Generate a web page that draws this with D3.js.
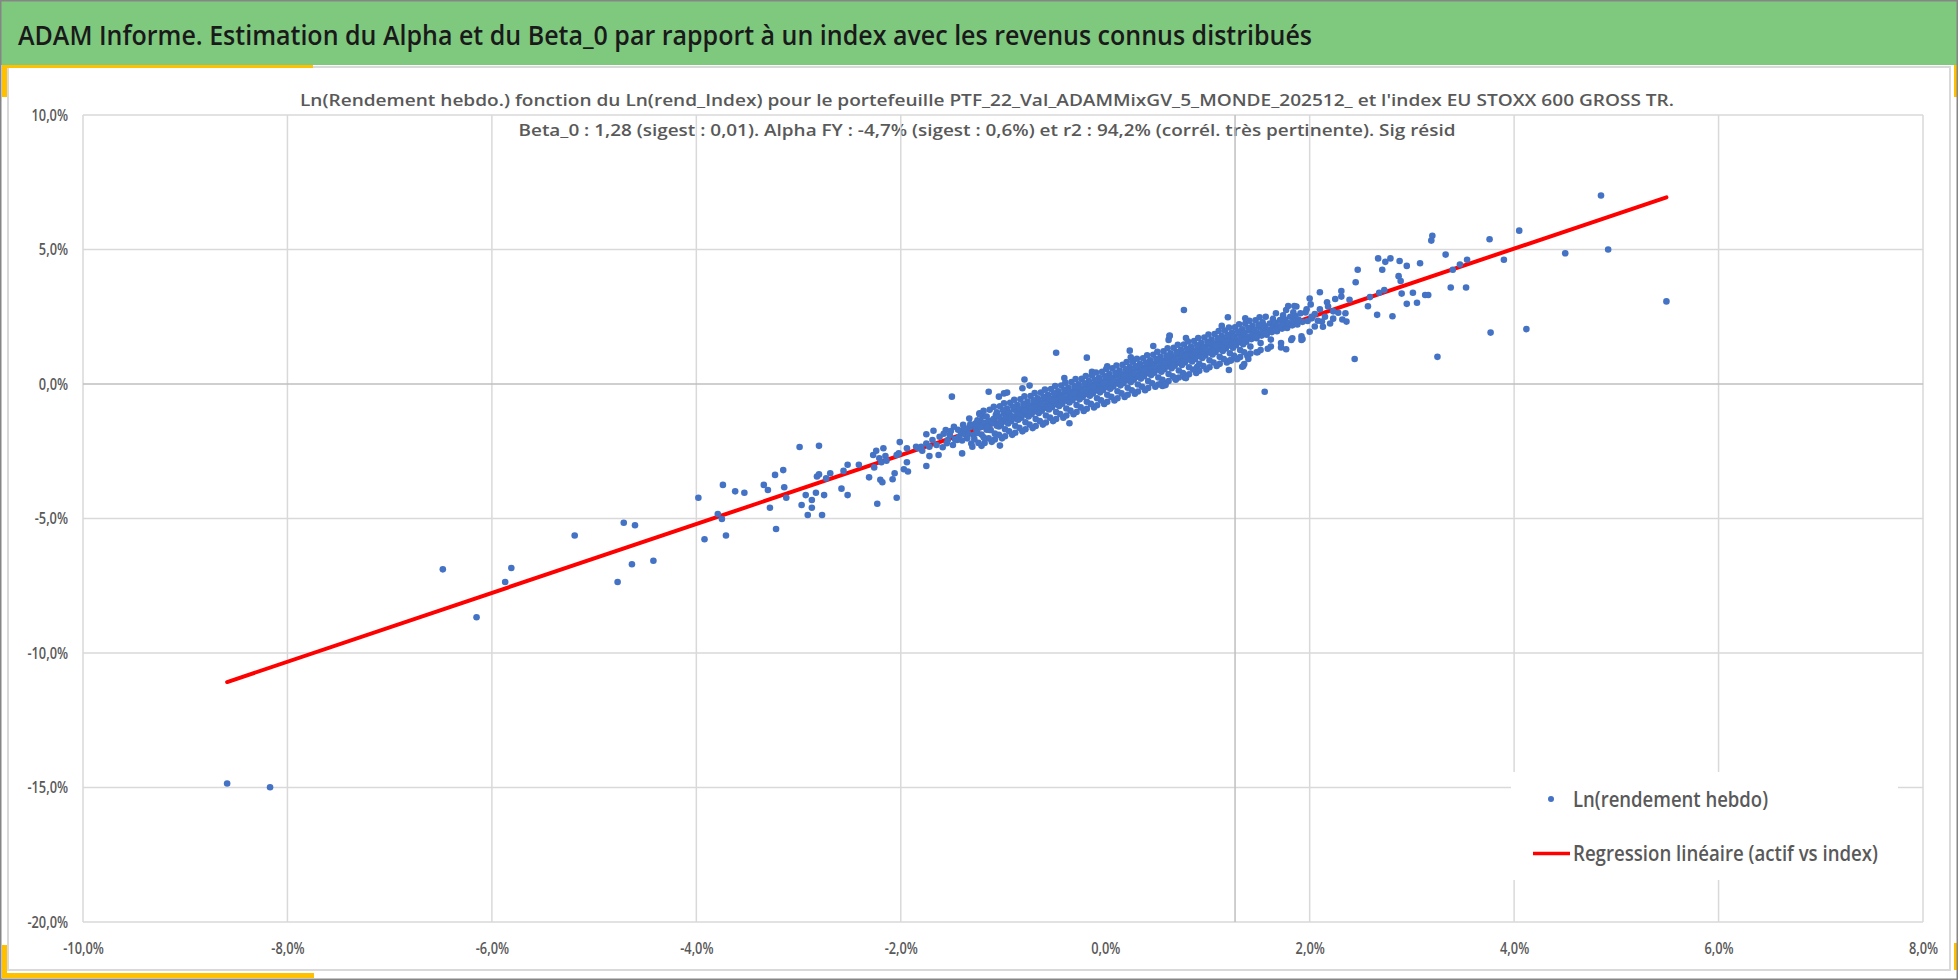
<!DOCTYPE html>
<html>
<head>
<meta charset="utf-8">
<script src="https://cdn.jsdelivr.net/npm/d3@7"></script>
<style>
html, body { margin: 0; padding: 0; background: #fff; }
svg { display: block; }
text { font-family: "Open Sans", sans-serif; }
</style>
</head>
<body>
<svg id="chart"></svg>
<script>
var viewWidth = 1958;
var viewHeight = 980;

var mainTitle = "ADAM Informe. Estimation du Alpha et du Beta_0 par rapport à un index avec les revenus connus distribués";
var subTitle1 = "Ln(Rendement hebdo.) fonction du Ln(rend_Index) pour le portefeuille PTF_22_Val_ADAMMixGV_5_MONDE_202512_ et l'index EU STOXX 600 GROSS TR.";
var subTitle2 = "Beta_0 : 1,28 (sigest : 0,01). Alpha FY : -4,7% (sigest : 0,6%) et r2 : 94,2% (corrél. très pertinente). Sig résid";
var legendNames = ["Ln(rendement hebdo)", "Regression linéaire (actif vs index)"];

// axes (values in %)
var xTicks = [-10, -8, -6, -4, -2, 0, 2, 4, 6, 8];
var yTicks = [10, 5, 0, -5, -10, -15, -20];
var xGridSkip = [0];          // no vertical gridline at 0 on the picture
var vAxisCross = 1.27;        // darker vertical axis line

// regression line ends (x index, y portfolio)
var regLine = [[-8.59, -11.08], [5.49, 6.94]];

// weekly points [ln index, ln portfolio] in %
var farLeft = [
  [-8.59,-14.85],[-8.17,-14.99],[-6.48,-6.89],[-6.15,-8.67],[-5.87,-7.36],[-5.81,-6.84],[-5.19,-5.63],
  [-4.71,-5.16],[-4.60,-5.25],[-4.77,-7.36],[-4.63,-6.70],[-4.42,-6.57],[-3.98,-4.23],[-3.74,-3.75],
  [-3.62,-3.99],[-3.53,-4.04],[-3.79,-4.83],[-3.75,-5.02],[-3.92,-5.77],[-3.71,-5.63]
];

var leftTail = [
  [-3.34,-3.75],[-3.30,-3.94],[-3.28,-4.60],[-3.23,-3.38],[-3.22,-5.39],[-3.15,-3.20],[-3.14,-3.84],[-3.12,-4.23],
  [-2.99,-2.34],[-2.97,-4.50],[-2.93,-4.13],[-2.91,-4.87],[-2.87,-4.31],[-2.87,-4.60],[-2.83,-4.04],[-2.80,-2.30],
  [-2.82,-3.44],[-2.80,-3.36],[-2.77,-4.87],[-2.75,-4.13],[-2.73,-3.51],[-2.69,-3.32],[-2.58,-3.89],[-2.56,-3.23],
  [-2.52,-3.00],[-2.52,-4.13],[-2.41,-3.00],[-2.31,-3.47],[-2.27,-2.64],[-2.24,-2.48],[-2.26,-3.10],[-2.23,-4.45],
  [-2.21,-2.76],[-2.20,-3.56],[-2.18,-3.65],[-2.19,-2.91],[-2.17,-2.39],[-2.15,-2.68],[-2.14,-2.85],[-2.08,-3.54],
  [-2.06,-3.32],[-2.04,-4.23],[-2.04,-2.64],[-2.02,-2.58],[-2.01,-2.16],[-1.97,-3.17],[-1.93,-3.25],[-1.94,-2.91],
  [-1.94,-2.39],[-1.85,-2.33],[-1.80,-2.33],[-1.79,-2.48],[-1.75,-1.87],[-1.75,-3.05],[-1.72,-2.68],[-1.68,-1.74],
  [-1.63,-2.64],[-1.50,-0.47],[-1.40,-2.58],[-1.03,-2.29],[-1.14,-0.29],[-0.79,0.17],[-0.48,1.16],[-0.18,0.98],
  [-0.35,-1.46],[0.02,0.66],
  [-1.83,-2.39],[-1.75,-2.21],[-1.72,-2.33],[-1.69,-2.08],[-1.65,-2.27],[-1.62,-1.96],[-1.59,-2.35],[-1.56,-1.71],
  [-1.54,-2.08],[-1.52,-1.90],[-1.49,-2.27],[-1.48,-1.59],[-1.45,-2.08],[-1.43,-1.96],[-1.39,-1.52],[-1.36,-1.71],
  [-1.35,-2.02],[-1.33,-1.28],[-1.31,-2.21],[-1.30,-2.33],[-1.28,-1.59],[-1.26,-1.71],[-1.23,-1.09],[-1.22,-1.40],
  [-1.20,-1.21],[-1.17,-1.59],[-1.13,-1.71],[-1.10,-1.34],[-1.07,-1.15],[-1.41,-1.80],[-1.37,-1.88],[-1.33,-1.62],
  [-1.29,-1.90],[-1.27,-1.47],[-1.25,-1.82],[-1.04,-1.58],[-1.08,-1.44],
  [-1.58,-1.85],[-1.55,-2.20],[-1.51,-1.75],[-1.47,-2.05],[-1.44,-1.70],[-1.40,-2.10],[-1.38,-1.65],[-1.34,-1.85],
  [-1.32,-1.50],[-1.28,-2.05],[-1.26,-1.55]
];

var bandLoose = [
  [-0.40,0.22],[-0.81,-0.16],[-0.74,-0.06],[-1.04,-0.47],[-0.99,-0.35],[-0.96,-0.32],[1.34,0.64],[1.36,0.74],
  [1.83,1.70],[1.92,1.64],[0.24,1.24],[0.25,0.99],[0.27,0.89],[0.62,1.64],[0.63,1.78],[0.79,1.71],[-0.13,0.45],
  [0.55,0.03],[0.56,-0.07],[0.78,0.23],[0.90,0.64],[0.85,0.87]
];

var rightTail = [
  [0.77,2.75],[1.20,2.48],[1.56,-0.29],[2.44,0.93],[3.25,1.01],[3.77,1.91],[4.12,2.04],[4.85,7.01],[4.05,5.70],
  [3.76,5.38],[4.50,4.86],[4.92,5.00],[3.90,4.62],[3.19,5.33],[3.20,5.51],[3.33,4.81],[3.54,4.62],[3.47,4.44],
  [3.40,4.25],[3.38,3.59],[3.53,3.59],[2.67,4.67],[2.74,4.54],[2.79,4.67],[2.88,4.57],[2.95,4.39],[3.08,4.49],
  [2.47,4.25],[2.71,4.25],[2.45,3.78],[2.87,4.01],[2.89,3.83],[2.68,3.39],[2.73,3.49],[2.90,3.36],[3.01,3.39],
  [3.13,3.31],[3.16,3.31],[2.57,2.89],[2.59,3.23],[2.95,2.98],[3.05,3.02],[2.66,2.57],[2.81,2.52],[2.10,3.41],
  [2.31,3.46],[2.31,3.25],[2.39,3.13],[2.25,3.16],[2.17,3.04],[2.23,2.70],[2.23,2.43],[2.32,2.40],[2.36,2.32],
  [2.35,2.63],[2.28,2.65],[2.12,2.32],[2.13,2.13],[2.05,2.14],[2.00,1.94],[1.93,1.67],[1.72,1.36],[1.77,1.29],
  [1.79,2.90],[1.85,2.90],[2.00,3.18],[2.01,2.96],[1.48,1.18],[1.40,0.93],[1.35,0.67],[1.21,0.52],[1.23,0.87],
  [0.79,0.22],[0.68,0.22],[0.59,-0.04],[0.63,1.80],[0.47,1.41],[1.37,2.44],[1.14,2.16],[5.49,3.07],
  [2.05,2.60],[2.10,2.78],[2.15,2.50],[2.08,2.35],[1.97,2.78],[2.18,2.88],[2.20,2.25],[2.02,2.44]
];

// the dense core of the cloud
var bandCore = [
  [-1.24,-1.52],[-1.21,-1.88],[-1.18,-1.44],[-1.16,-1.70],[-1.22,-1.61],[-1.19,-1.98],[-1.25,-1.35],
  [-1.14,-1.38],[-1.12,-1.71],[-1.09,-1.29],[-1.06,-1.55],[-1.11,-1.47],[-1.08,-1.84],[-1.15,-1.60],[-1.05,-1.22],
  [-1.04,-1.20],[-1.02,-1.52],[-0.99,-1.11],[-0.97,-1.40],[-1.01,-1.33],[-0.98,-1.68],[-1.03,-1.45],[-0.96,-1.26],[-1.00,-0.98],
  [-0.94,-1.05],[-0.92,-1.38],[-0.89,-0.96],[-0.87,-1.29],[-0.91,-1.20],[-0.88,-1.55],[-0.93,-1.31],[-0.86,-1.12],[-0.90,-0.85],[-0.95,-1.47],
  [-0.84,-0.92],[-0.82,-1.25],[-0.79,-0.83],[-0.77,-1.14],[-0.81,-1.06],[-0.78,-1.42],[-0.83,-1.18],[-0.76,-0.99],[-0.80,-0.74],[-0.85,-1.33],[-0.79,-1.01],
  [-0.74,-0.80],[-0.72,-1.12],[-0.69,-0.70],[-0.67,-1.02],[-0.71,-0.93],[-0.68,-1.30],[-0.73,-1.06],[-0.66,-0.86],[-0.70,-0.61],[-0.75,-1.21],[-0.69,-0.97],[-0.72,-0.88],
  [-0.64,-0.67],[-0.62,-0.99],[-0.59,-0.57],[-0.57,-0.89],[-0.61,-0.80],[-0.58,-1.17],[-0.63,-0.93],[-0.56,-0.73],[-0.60,-0.48],[-0.65,-1.08],[-0.59,-0.84],[-0.62,-0.75],
  [-0.54,-0.54],[-0.52,-0.86],[-0.49,-0.44],[-0.47,-0.76],[-0.51,-0.67],[-0.48,-1.04],[-0.53,-0.80],[-0.46,-0.60],[-0.50,-0.35],[-0.55,-0.95],[-0.49,-0.71],[-0.52,-0.62],
  [-0.44,-0.41],[-0.42,-0.73],[-0.39,-0.31],[-0.37,-0.63],[-0.41,-0.54],[-0.38,-0.91],[-0.43,-0.67],[-0.36,-0.47],[-0.40,-0.22],[-0.45,-0.82],[-0.39,-0.58],[-0.42,-0.49],
  [-0.34,-0.28],[-0.32,-0.60],[-0.29,-0.18],[-0.27,-0.50],[-0.31,-0.41],[-0.28,-0.78],[-0.33,-0.54],[-0.26,-0.34],[-0.30,-0.09],[-0.35,-0.69],[-0.29,-0.45],[-0.32,-0.36],
  [-0.24,-0.16],[-0.22,-0.48],[-0.19,-0.06],[-0.17,-0.38],[-0.21,-0.29],[-0.18,-0.66],[-0.23,-0.42],[-0.16,-0.22],[-0.20,0.03],[-0.25,-0.57],[-0.19,-0.33],[-0.22,-0.24],
  [-0.14,-0.03],[-0.12,-0.35],[-0.09,0.07],[-0.07,-0.25],[-0.11,-0.16],[-0.08,-0.53],[-0.13,-0.29],[-0.06,-0.09],[-0.10,0.16],[-0.15,-0.44],[-0.09,-0.20],[-0.12,-0.11],
  [-0.04,0.10],[-0.02,-0.22],[0.01,0.20],[0.03,-0.12],[-0.01,-0.03],[0.02,-0.40],[-0.03,-0.16],[0.04,0.04],[0.00,0.29],[-0.05,-0.31],[0.01,-0.07],[-0.02,0.02],
  [0.06,0.23],[0.08,-0.09],[0.11,0.33],[0.13,0.01],[0.09,0.10],[0.12,-0.27],[0.07,-0.03],[0.14,0.17],[0.10,0.42],[0.05,-0.18],[0.11,0.06],[0.08,0.15],
  [0.16,0.36],[0.18,0.04],[0.21,0.46],[0.23,0.14],[0.19,0.23],[0.22,-0.14],[0.17,0.10],[0.24,0.30],[0.20,0.55],[0.15,-0.05],[0.21,0.19],[0.18,0.28],
  [0.26,0.48],[0.28,0.16],[0.31,0.58],[0.33,0.26],[0.29,0.35],[0.32,-0.02],[0.27,0.22],[0.34,0.42],[0.30,0.67],[0.25,0.07],[0.31,0.31],[0.28,0.40],
  [0.36,0.61],[0.38,0.29],[0.41,0.71],[0.43,0.39],[0.39,0.48],[0.42,0.11],[0.37,0.35],[0.44,0.55],[0.40,0.80],[0.35,0.20],[0.41,0.44],[0.38,0.53],
  [0.46,0.74],[0.48,0.42],[0.51,0.84],[0.53,0.52],[0.49,0.61],[0.52,0.24],[0.47,0.48],[0.54,0.68],[0.50,0.93],[0.45,0.33],[0.51,0.57],[0.48,0.66],
  [0.56,0.87],[0.58,0.55],[0.61,0.97],[0.63,0.65],[0.59,0.74],[0.62,0.37],[0.57,0.61],[0.64,0.81],[0.60,1.06],[0.55,0.46],[0.61,0.70],[0.58,0.79],
  [0.66,1.00],[0.68,0.68],[0.71,1.10],[0.73,0.78],[0.69,0.87],[0.72,0.50],[0.67,0.74],[0.74,0.94],[0.70,1.19],[0.65,0.59],[0.71,0.83],[0.68,0.92],
  [0.76,1.12],[0.78,0.80],[0.81,1.22],[0.83,0.90],[0.79,0.99],[0.82,0.62],[0.77,0.86],[0.84,1.06],[0.80,1.31],[0.75,0.71],[0.81,0.95],[0.78,1.04],
  [0.86,1.25],[0.88,0.93],[0.91,1.35],[0.93,1.03],[0.89,1.12],[0.92,0.75],[0.87,0.99],[0.94,1.19],[0.90,1.44],[0.85,0.84],[0.91,1.08],[0.88,1.17],
  [0.96,1.38],[0.98,1.06],[1.01,1.48],[1.03,1.16],[0.99,1.25],[1.02,0.88],[0.97,1.12],[1.04,1.32],[1.00,1.57],[0.95,0.97],[1.01,1.21],[0.98,1.30],
  [1.06,1.51],[1.08,1.19],[1.11,1.61],[1.13,1.29],[1.09,1.38],[1.12,1.01],[1.07,1.25],[1.14,1.45],[1.10,1.70],[1.05,1.10],[1.11,1.34],[1.08,1.43],
  [1.16,1.64],[1.18,1.32],[1.21,1.74],[1.23,1.42],[1.19,1.51],[1.22,1.14],[1.17,1.38],[1.24,1.58],[1.20,1.83],[1.15,1.23],[1.21,1.47],[1.18,1.56],
  [1.26,1.76],[1.28,1.44],[1.31,1.86],[1.33,1.54],[1.29,1.63],[1.32,1.26],[1.27,1.50],[1.34,1.70],[1.30,1.95],[1.25,1.35],[1.31,1.59],
  [1.36,1.89],[1.38,1.57],[1.41,1.99],[1.43,1.67],[1.39,1.76],[1.42,1.39],[1.37,1.63],[1.44,1.83],[1.40,2.08],[1.35,1.48],
  [1.46,2.02],[1.48,1.70],[1.51,2.12],[1.53,1.80],[1.49,1.89],[1.52,1.52],[1.47,1.76],[1.54,1.96],[1.50,2.21],
  [1.56,2.15],[1.58,1.83],[1.61,2.25],[1.63,1.93],[1.59,2.02],[1.62,1.65],[1.57,1.89],[1.64,2.09],
  [1.66,2.28],[1.68,1.96],[1.71,2.38],[1.73,2.06],[1.69,2.15],[1.67,2.02],[1.74,2.22],
  [1.76,2.40],[1.78,2.08],[1.81,2.50],[1.83,2.18],[1.79,2.27],[1.84,2.34],
  [1.86,2.53],[1.88,2.21],[1.91,2.63],[1.93,2.31],[1.89,2.40],
  [1.96,2.66],[1.98,2.34],[2.02,2.50]
];

// fuzzy edges of the core
var bandEdge = [
  [-1.23,-1.12],[-1.18,-2.19],[-1.16,-1.21],[-1.21,-2.30],[-1.19,-1.00],[-1.24,-2.19],
  [-1.13,-0.96],[-1.08,-2.06],[-1.06,-1.05],[-1.11,-2.15],[-1.09,-0.85],[-1.14,-2.02],
  [-1.03,-0.83],[-0.98,-1.94],[-0.96,-0.91],[-1.01,-2.02],[-0.99,-0.72],[-1.04,-1.89],
  [-0.93,-0.70],[-0.88,-1.81],[-0.86,-0.78],[-0.91,-1.89],[-0.89,-0.59],[-0.94,-1.76],
  [-0.83,-0.57],[-0.78,-1.68],[-0.76,-0.65],[-0.81,-1.76],[-0.79,-0.46],[-0.84,-1.63],
  [-0.73,-0.45],[-0.68,-1.56],[-0.66,-0.53],[-0.71,-1.64],[-0.69,-0.34],[-0.74,-1.51],
  [-0.63,-0.32],[-0.58,-1.43],[-0.56,-0.40],[-0.61,-1.51],[-0.59,-0.21],[-0.64,-1.38],
  [-0.53,-0.19],[-0.48,-1.30],[-0.46,-0.27],[-0.51,-1.38],[-0.49,-0.08],[-0.54,-1.25],
  [-0.43,-0.06],[-0.38,-1.17],[-0.36,-0.14],[-0.41,-1.25],[-0.39,0.05],[-0.44,-1.12],
  [-0.33,0.07],[-0.28,-1.04],[-0.26,-0.01],[-0.31,-1.12],[-0.29,0.18],[-0.34,-0.99],
  [-0.23,0.19],[-0.18,-0.92],[-0.16,0.11],[-0.21,-1.00],[-0.19,0.30],[-0.24,-0.87],
  [-0.13,0.32],[-0.08,-0.79],[-0.06,0.24],[-0.11,-0.87],[-0.09,0.43],[-0.14,-0.74],
  [-0.03,0.45],[0.02,-0.66],[0.04,0.37],[-0.01,-0.74],[0.01,0.56],[-0.04,-0.61],
  [0.07,0.58],[0.12,-0.53],[0.14,0.50],[0.09,-0.61],[0.11,0.69],[0.06,-0.48],
  [0.17,0.71],[0.22,-0.40],[0.24,0.63],[0.19,-0.48],[0.21,0.82],[0.16,-0.35],
  [0.27,0.83],[0.32,-0.28],[0.34,0.75],[0.29,-0.36],[0.31,0.94],[0.26,-0.23],
  [0.37,0.96],[0.42,-0.15],[0.44,0.88],[0.39,-0.23],[0.41,1.07],[0.36,-0.10],
  [0.47,1.09],[0.52,-0.02],[0.54,1.01],[0.49,-0.10],[0.51,1.20],[0.46,0.03],
  [0.57,1.22],[0.62,0.11],[0.64,1.14],[0.59,0.03],[0.61,1.33],[0.56,0.16],
  [0.67,1.35],[0.72,0.24],[0.74,1.27],[0.69,0.16],[0.71,1.46],[0.66,0.29],
  [0.77,1.47],[0.82,0.36],[0.84,1.39],[0.79,0.28],[0.81,1.58],[0.76,0.41],
  [0.87,1.60],[0.92,0.49],[0.94,1.52],[0.89,0.41],[0.91,1.71],[0.86,0.54],
  [0.97,1.73],[1.02,0.62],[1.04,1.65],[0.99,0.54],[1.01,1.84],[0.96,0.67],
  [1.07,1.86],[1.12,0.75],[1.14,1.78],[1.09,0.67],[1.11,1.97],[1.06,0.80],
  [1.17,1.99],[1.22,0.88],[1.24,1.91],[1.19,0.80],[1.21,2.10],[1.16,0.93],
  [1.27,2.11],[1.32,1.00],[1.34,2.03],[1.29,0.92],[1.31,2.22],[1.26,1.05],
  [1.37,2.24],[1.42,1.13],[1.44,2.16],[1.39,1.05],[1.41,2.35],[1.36,1.18],
  [1.47,2.37],[1.52,1.26],[1.54,2.29],[1.49,1.18],[1.51,2.48],
  [1.57,2.50],[1.62,1.39],[1.64,2.42],[1.59,1.31],
  [1.67,2.63],[1.72,1.52],[1.74,2.55],
  [1.77,2.75],[1.82,1.64],[1.84,2.67],
  [1.87,2.88],[1.92,1.77]
];

var allPoints = farLeft.concat(leftTail, bandLoose, bandEdge, bandCore, rightTail);

// french number format with plain hyphen
var fr = d3.formatLocale({ decimal: ",", thousands: " ", grouping: [3], currency: ["", " €"], minus: "-" });
var pct = function (d) { return fr.format(".1f")(d) + "%"; };

var plot = { left: 83, right: 1923, top: 115, bottom: 922 };

var svg = d3.select("#chart")
    .attr("width", viewWidth)
    .attr("height", viewHeight);

var x = d3.scaleLinear().domain([-10, 8]).range([plot.left, plot.right]);
var y = d3.scaleLinear().domain([-20, 10]).range([plot.bottom, plot.top]);

// squeeze text horizontally (the picture has narrow glyphs)
function squeeze(sel, k) {
    sel.each(function () {
        var w = this.getComputedTextLength();
        d3.select(this).attr("textLength", w * k).attr("lengthAdjust", "spacingAndGlyphs");
    });
}

// ---- frame ----
svg.append("rect").attr("x", 0).attr("y", 0).attr("width", viewWidth).attr("height", viewHeight).attr("fill", "#fff");
svg.append("rect").attr("x", 1).attr("y", 1).attr("width", viewWidth - 2).attr("height", 64).attr("fill", "#7fc97f");
svg.append("rect").attr("x", 8).attr("y", 67).attr("width", 1942).attr("height", 903)
    .attr("fill", "none").attr("stroke", "#d9d9d9").attr("stroke-width", 2);

var yellow = "#ffc000";
svg.append("rect").attr("x", 2).attr("y", 65).attr("width", 311).attr("height", 3).attr("fill", yellow);
svg.append("rect").attr("x", 2).attr("y", 65).attr("width", 5).attr("height", 32).attr("fill", yellow);
svg.append("rect").attr("x", 2).attr("y", 945).attr("width", 5).attr("height", 33).attr("fill", yellow);
svg.append("rect").attr("x", 2).attr("y", 973).attr("width", 312).attr("height", 5).attr("fill", yellow);
svg.append("rect").attr("x", 1954).attr("y", 65).attr("width", 3).attr("height", 32).attr("fill", yellow);
svg.append("rect").attr("x", 1954).attr("y", 943).attr("width", 3).attr("height", 27).attr("fill", yellow);

svg.append("rect").attr("x", 0.75).attr("y", 0.75).attr("width", viewWidth - 1.5).attr("height", viewHeight - 1.5)
    .attr("fill", "none").attr("stroke", "#858585").attr("stroke-width", 1.5);

svg.append("text")
    .attr("x", 18).attr("y", 45)
    .attr("font-size", 27).attr("font-weight", 600).attr("fill", "#1a1a1a")
    .attr("textLength", 1294).attr("lengthAdjust", "spacingAndGlyphs")
    .text(mainTitle);

svg.append("text")
    .attr("x", 987).attr("y", 106).attr("text-anchor", "middle")
    .attr("font-size", 16).attr("font-weight", 600).attr("fill", "#595959")
    .attr("textLength", 1374).attr("lengthAdjust", "spacingAndGlyphs")
    .text(subTitle1);

svg.append("text")
    .attr("x", 987).attr("y", 136).attr("text-anchor", "middle")
    .attr("font-size", 16).attr("font-weight", 600).attr("fill", "#595959")
    .attr("textLength", 937).attr("lengthAdjust", "spacingAndGlyphs")
    .text(subTitle2);

// ---- grid ----
var grid = svg.append("g");
grid.selectAll(".vgrid")
    .data(xTicks.filter(function (d) { return xGridSkip.indexOf(d) < 0; }))
    .enter().append("line")
    .attr("x1", function (d) { return x(d); }).attr("x2", function (d) { return x(d); })
    .attr("y1", plot.top).attr("y2", plot.bottom)
    .attr("stroke", "#d9d9d9").attr("stroke-width", 1.5);

grid.selectAll(".hgrid")
    .data(yTicks)
    .enter().append("line")
    .attr("x1", plot.left).attr("x2", plot.right)
    .attr("y1", function (d) { return y(d); }).attr("y2", function (d) { return y(d); })
    .attr("stroke", function (d) { return d === 0 ? "#bfbfbf" : "#d9d9d9"; })
    .attr("stroke-width", 1.5);

grid.append("line")
    .attr("x1", x(vAxisCross)).attr("x2", x(vAxisCross))
    .attr("y1", plot.top).attr("y2", plot.bottom)
    .attr("stroke", "#bfbfbf").attr("stroke-width", 1.5);

// ---- axes ----
var xAxis = d3.axisBottom(x).tickValues(xTicks).tickFormat(pct).tickSize(0).tickPadding(21);
var yAxis = d3.axisLeft(y).tickValues(yTicks).tickFormat(pct).tickSize(0).tickPadding(15);

var gx = svg.append("g").attr("transform", "translate(0," + plot.bottom + ")").call(xAxis);
var gy = svg.append("g").attr("transform", "translate(" + plot.left + ",0)").call(yAxis);
[gx, gy].forEach(function (g) {
    g.select(".domain").remove();
    g.selectAll("text")
        .attr("font-family", "Open Sans, sans-serif")
        .attr("font-size", 16)
        .attr("font-weight", 600)
        .attr("fill", "#595959");
    squeeze(g.selectAll("text"), 0.8);
});

// ---- regression line, then the points over it ----
var line = d3.line()
    .x(function (d) { return x(d[0]); })
    .y(function (d) { return y(d[1]); });

svg.append("path")
    .datum(regLine)
    .attr("d", line)
    .attr("fill", "none")
    .attr("stroke", "#ff0000")
    .attr("stroke-width", 4)
    .attr("stroke-linecap", "round");

svg.append("g")
    .selectAll("circle")
    .data(allPoints)
    .enter().append("circle")
    .attr("cx", function (d) { return x(d[0]); })
    .attr("cy", function (d) { return y(d[1]); })
    .attr("r", 3.3)
    .attr("fill", "#4472c4");

// ---- legend ----
var legend = svg.append("g");
legend.append("rect")
    .attr("x", 1511).attr("y", 772).attr("width", 387).attr("height", 108)
    .attr("fill", "#fff");
legend.append("circle").attr("cx", 1551).attr("cy", 799).attr("r", 3).attr("fill", "#4472c4");
legend.append("line")
    .attr("x1", 1533).attr("x2", 1570).attr("y1", 853.5).attr("y2", 853.5)
    .attr("stroke", "#ff0000").attr("stroke-width", 3.5);
legend.selectAll(".ltxt")
    .data(legendNames)
    .enter().append("text")
    .attr("x", 1573)
    .attr("y", function (d, i) { return i === 0 ? 807 : 861; })
    .attr("font-size", 21)
    .attr("font-weight", 600)
    .attr("fill", "#595959")
    .attr("textLength", function (d, i) { return i === 0 ? 195 : 305; })
    .attr("lengthAdjust", "spacingAndGlyphs")
    .text(function (d) { return d; });
</script>
</body>
</html>
